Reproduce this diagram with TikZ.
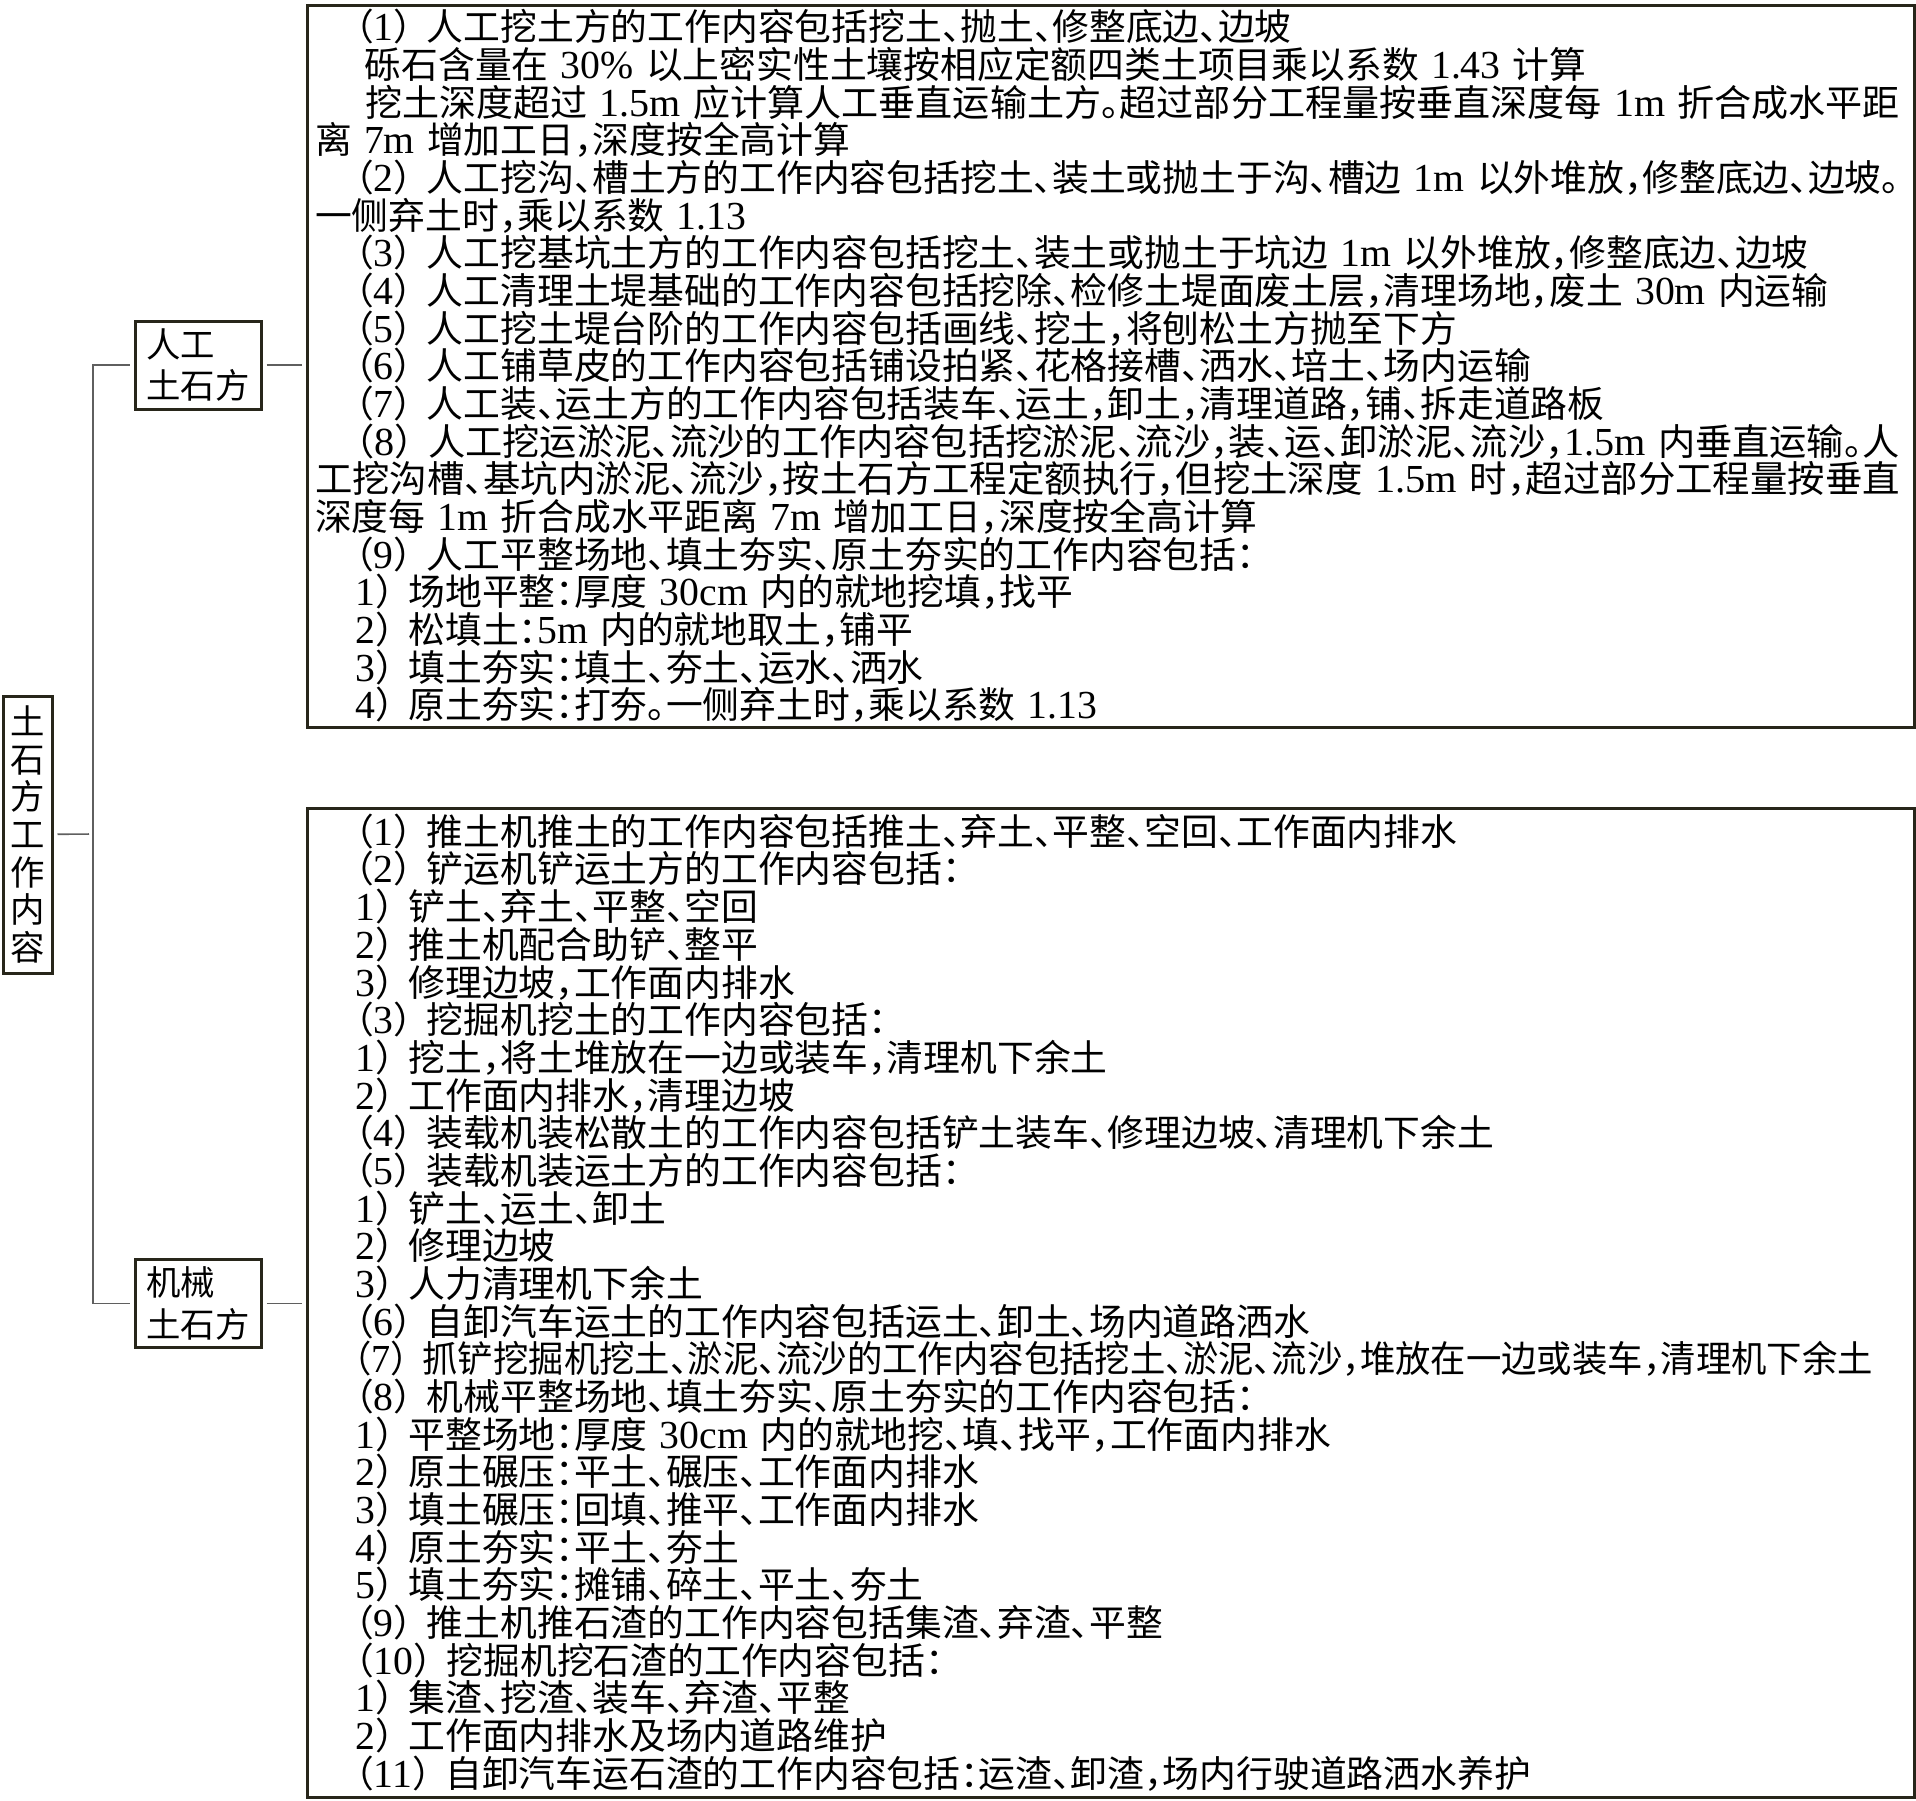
\documentclass[tikz,border=0pt]{standalone}
\usepackage{graphicx}
\usepackage{fontspec}
\setmainfont{Noto Sans CJK SC}[RawFeature=+halt]
\newfontfamily\timesfont{Liberation Serif}[Scale=1.08]

\definecolor{boxline}{RGB}{40,38,26}
\definecolor{linkline}{RGB}{95,95,95}
\newcommand{\indt}{\hspace*{1.1em}}
\newcommand{\tnr}[1]{{\timesfont #1}}
\newcommand{\itm}[1]{（\tnr{#1}）\kern.4em}
\newcommand{\subitm}[1]{\tnr{#1}）\kern.4em}
\newcommand{\fitline}[2][\dimexpr\hsize-1.5pt\relax]{\resizebox{#1}{\height}{#2}}

\begin{document}
\begin{tikzpicture}
[x=0.25pt,y=-0.25pt,every node/.style={draw=boxline,line width=0.75pt,inner
	sep=0pt,font=\fontsize{8.6pt}{9.42pt}\selectfont},
textbox/.style={text width=397.75pt,inner xsep=2pt,inner ysep=1pt,align=left,minimum height=#1,font=\fontsize{9.2pt}{9.42pt}\selectfont},
headbox/.style={minimum width=31.5pt,minimum height=22pt,align=left,font=\fontsize{8.6pt}{10.4pt}\selectfont},
link/.style={draw=linkline,line width=0.4pt,shorten <=1pt,shorten >=1pt}]
\useasboundingbox (0,0) rectangle (1916,1800);

\node[minimum width=12.25pt,minimum height=69.25pt,align=center] (root) at (27.5,834.5) {土\\石\\方\\工\\作\\内\\容};
\node[headbox] (manual) at (198,365) {人工\\土石方};
\node[headbox] (mech) at (198,1303.5) {机械\\土石方};

\node[textbox=180.5pt] (mantext) at (1110.5,366) {
\indt\itm{1}人工挖土方的工作内容包括挖土、抛土、修整底边、边坡\\
\indt\hspace*{.25em}砾石含量在~\tnr{30\%}~以上密实性土壤按相应定额四类土项目乘以系数~\tnr{1.43}~计算\\
\fitline{\indt\hspace*{.25em}挖土深度超过~\tnr{1.5m}~应计算人工垂直运输土方。超过部分工程量按垂直深度每~\tnr{1m}~折合成水平距}\\
离~\tnr{7m}~增加工日，深度按全高计算\\
\fitline{\indt\itm{2}人工挖沟、槽土方的工作内容包括挖土、装土或抛土于沟、槽边~\tnr{1m}~以外堆放，修整底边、边坡。}\\
一侧弃土时，乘以系数~\tnr{1.13}\\
\indt\itm{3}人工挖基坑土方的工作内容包括挖土、装土或抛土于坑边~\tnr{1m}~以外堆放，修整底边、边坡\\
\indt\itm{4}人工清理土堤基础的工作内容包括挖除、检修土堤面废土层，清理场地，废土~\tnr{30m}~内运输\\
\indt\itm{5}人工挖土堤台阶的工作内容包括画线、挖土，将刨松土方抛至下方\\
\indt\itm{6}人工铺草皮的工作内容包括铺设拍紧、花格接槽、洒水、培土、场内运输\\
\indt\itm{7}人工装、运土方的工作内容包括装车、运土，卸土，清理道路，铺、拆走道路板\\
\fitline{\indt\itm{8}人工挖运淤泥、流沙的工作内容包括挖淤泥、流沙，装、运、卸淤泥、流沙，\tnr{1.5m}~内垂直运输。人}\\
\fitline{工挖沟槽、基坑内淤泥、流沙，按土石方工程定额执行，但挖土深度~\tnr{1.5m}~时，超过部分工程量按垂直}\\
深度每~\tnr{1m}~折合成水平距离~\tnr{7m}~增加工日，深度按全高计算\\
\indt\itm{9}人工平整场地、填土夯实、原土夯实的工作内容包括：\\
\indt\subitm{1}场地平整：厚度~\tnr{30cm}~内的就地挖填，找平\\
\indt\subitm{2}松填土：\tnr{5m}~内的就地取土，铺平\\
\indt\subitm{3}填土夯实：填土、夯土、运水、洒水\\
\indt\subitm{4}原土夯实：打夯。一侧弃土时，乘以系数~\tnr{1.13}};

\node[textbox=247.25pt] (mechtext) at (1110.5,1302.5) {
\indt\itm{1}推土机推土的工作内容包括推土、弃土、平整、空回、工作面内排水\\
\indt\itm{2}铲运机铲运土方的工作内容包括：\\
\indt\subitm{1}铲土、弃土、平整、空回\\
\indt\subitm{2}推土机配合助铲、整平\\
\indt\subitm{3}修理边坡，工作面内排水\\
\indt\itm{3}挖掘机挖土的工作内容包括：\\
\indt\subitm{1}挖土，将土堆放在一边或装车，清理机下余土\\
\indt\subitm{2}工作面内排水，清理边坡\\
\indt\itm{4}装载机装松散土的工作内容包括铲土装车、修理边坡、清理机下余土\\
\indt\itm{5}装载机装运土方的工作内容包括：\\
\indt\subitm{1}铲土、运土、卸土\\
\indt\subitm{2}修理边坡\\
\indt\subitm{3}人力清理机下余土\\
\indt\itm{6}自卸汽车运土的工作内容包括运土、卸土、场内道路洒水\\
\fitline[389.5pt]{\indt\itm{7}抓铲挖掘机挖土、淤泥、流沙的工作内容包括挖土、淤泥、流沙，堆放在一边或装车，清理机下余土}\\
\indt\itm{8}机械平整场地、填土夯实、原土夯实的工作内容包括：\\
\indt\subitm{1}平整场地：厚度~\tnr{30cm}~内的就地挖、填、找平，工作面内排水\\
\indt\subitm{2}原土碾压：平土、碾压、工作面内排水\\
\indt\subitm{3}填土碾压：回填、推平、工作面内排水\\
\indt\subitm{4}原土夯实：平土、夯土\\
\indt\subitm{5}填土夯实：摊铺、碎土、平土、夯土\\
\indt\itm{9}推土机推石渣的工作内容包括集渣、弃渣、平整\\
\indt\itm{10}挖掘机挖石渣的工作内容包括：\\
\indt\subitm{1}集渣、挖渣、装车、弃渣、平整\\
\indt\subitm{2}工作面内排水及场内道路维护\\
\indt\itm{11}自卸汽车运石渣的工作内容包括：运渣、卸渣，场内行驶道路洒水养护};

\coordinate (trunk) at (93,834);
\draw[link] (root) -- (trunk);
\draw[link] (manual) -| (trunk) |- (mech);
\path
\foreach \headNode/\textNode in {manual/mantext,mech/mechtext}
{
	(\headNode.east) edge[link] (\headNode.east -| \textNode.west)
};
\end{tikzpicture}
\end{document}
